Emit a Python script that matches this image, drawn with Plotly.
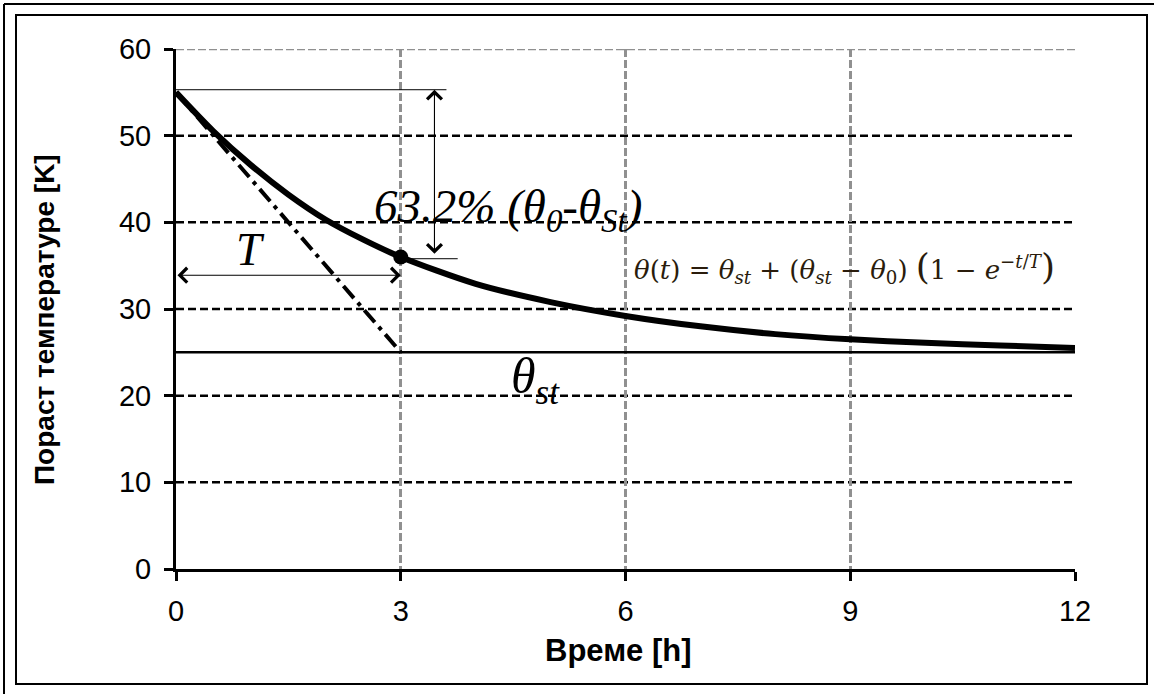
import plotly.graph_objects as go

# ---- data ----
time_h = [0, 0.5, 1, 1.5, 2, 2.5, 3, 4, 5, 6, 7, 8, 9, 10, 11, 12]
temp_rise = [55, 50.5, 46.6, 43.2, 40.3, 38.0, 36.0, 32.9, 30.8, 29.2, 28.0, 27.1, 26.5, 26.1, 25.8, 25.5]
tangent_t = [0, 3]
tangent_y = [55, 25]
steady_t = [0, 12]
steady_y = [25, 25]
point_t = [3]
point_y = [36]
x_ticks = [0, 3, 6, 9, 12]
y_ticks = [0, 10, 20, 30, 40, 50, 60]
y_grid_black = [10, 20, 30, 40, 50]
y_grid_gray = [60]

W, H = 1154, 694
ML, MR, MT, MB = 176, 79, 49, 125
PW, PH = W - ML - MR, H - MT - MB


def px(x):
    return (x - ML) / PW


def py(y):
    return (H - MB - y) / PH


fig = go.Figure()

fig.add_trace(go.Scatter(x=steady_t, y=steady_y, mode="lines",
                         line=dict(color="black", width=2.5), hoverinfo="skip"))
fig.add_trace(go.Scatter(x=tangent_t, y=tangent_y, mode="lines",
                         line=dict(color="black", width=4, dash="16px,6px,4px,6px"),
                         hoverinfo="skip"))
fig.add_trace(go.Scatter(x=time_h, y=temp_rise, mode="lines",
                         line=dict(color="black", width=6, shape="spline", smoothing=0.8)))
fig.add_trace(go.Scatter(x=point_t, y=point_y, mode="markers",
                         marker=dict(color="black", size=15)))

shapes = []
# horizontal grid lines
for v in y_grid_black:
    shapes.append(dict(type="line", xref="x", yref="y", x0=0, x1=12, y0=v, y1=v,
                       line=dict(color="black", width=2.5, dash="8px,4px"), layer="below"))
for v in y_grid_gray:
    shapes.append(dict(type="line", xref="x", yref="y", x0=0, x1=12, y0=v, y1=v,
                       line=dict(color="#909090", width=2.5, dash="8px,3px"), layer="below"))
# thin reference lines
shapes.append(dict(type="line", xref="x", yref="y", x0=0, x1=3.61, y0=55.3, y1=55.3,
                   line=dict(color="black", width=1)))
shapes.append(dict(type="line", xref="x", yref="y", x0=3, x1=3.76, y0=35.8, y1=35.8,
                   line=dict(color="black", width=1)))
# frames
shapes.append(dict(type="line", xref="paper", yref="paper", x0=px(4), x1=px(4), y0=py(4), y1=py(H + 5),
                   line=dict(color="black", width=2)))
shapes.append(dict(type="line", xref="paper", yref="paper", x0=px(4), x1=px(W + 5), y0=py(4), y1=py(4),
                   line=dict(color="black", width=2)))
shapes.append(dict(type="rect", xref="paper", yref="paper", x0=px(16), x1=px(1147), y0=py(15), y1=py(684),
                   line=dict(color="black", width=2)))

annotations = []
# double arrows
annotations.append(dict(x=3.45, y=55.3, ax=3.45, ay=36.2, xref="x", yref="y", axref="x", ayref="y",
                        text="", showarrow=True, arrowhead=4, startarrowhead=4, arrowside="end+start",
                        arrowsize=2.6, startarrowsize=2.6, arrowwidth=1.1, arrowcolor="black"))
annotations.append(dict(x=3.0, y=33.9, ax=0.0, ay=33.9, xref="x", yref="y", axref="x", ayref="y",
                        text="", showarrow=True, arrowhead=4, startarrowhead=4, arrowside="end+start",
                        arrowsize=2.6, startarrowsize=2.6, arrowwidth=1.1, arrowcolor="black"))
# texts
annotations.append(dict(x=4.43, y=41.5, xref="x", yref="y", showarrow=False,
                        text="<i>63.2% (θ<sub>0</sub>-θ<sub>St</sub>)</i>",
                        font=dict(family="Liberation Serif", size=47, color="black")))
annotations.append(dict(x=1.0, y=36.9, xref="x", yref="y", showarrow=False,
                        text="<i>T</i>",
                        font=dict(family="Liberation Serif", size=46, color="black")))
annotations.append(dict(x=4.8, y=21.8, xref="x", yref="y", showarrow=False,
                        text="<i>θ<sub>st</sub></i>",
                        font=dict(family="Liberation Serif", size=50, color="black")))
annotations.append(dict(x=8.92, y=34.9, xref="x", yref="y", showarrow=False,
                        text="<i>θ</i>(<i>t</i>) = <i>θ</i><sub><i>st</i></sub> + (<i>θ</i><sub><i>st</i></sub> − "
                             "<i>θ</i><sub>0</sub>) <span style='font-size:36px'>(</span>1 − "
                             "<i>e</i><sup>−<i>t</i>/<i>T</i></sup><span style='font-size:36px'>)</span>",
                        font=dict(family="DejaVu Serif", size=26, color="#2a1c0c")))
# axis titles
annotations.append(dict(x=px(45), y=py(320), xref="paper", yref="paper", showarrow=False,
                        xanchor="center", yanchor="middle",
                        text="<b>Пораст температуре [K]</b>", textangle=-90,
                        font=dict(family="Liberation Sans", size=28, color="black")))
annotations.append(dict(x=px(618), y=py(651), xref="paper", yref="paper", showarrow=False,
                        xanchor="center", yanchor="middle",
                        text="<b>Време [h]</b>",
                        font=dict(family="Liberation Sans", size=31, color="black")))

fig.update_layout(
    width=W, height=H,
    margin=dict(l=ML, r=MR, t=MT, b=MB, pad=0),
    paper_bgcolor="white", plot_bgcolor="white",
    showlegend=False,
    shapes=shapes, annotations=annotations,
    xaxis=dict(range=[0, 12], tickvals=x_ticks, ticktext=[str(v) for v in x_ticks],
               showgrid=True, gridcolor="#909090", gridwidth=2.5, griddash="8px,3px",
               zeroline=False, showline=True, linecolor="black", linewidth=3,
               ticks="outside", ticklen=9, tickwidth=3, tickcolor="black",
               ticklabelstandoff=5,
               tickfont=dict(family="Liberation Sans", size=29, color="black"),
               fixedrange=True),
    yaxis=dict(range=[0, 60], tickvals=y_ticks, ticktext=[str(v) for v in y_ticks],
               showgrid=False, zeroline=False, showline=True, linecolor="black", linewidth=3,
               ticks="outside", ticklen=9, tickwidth=3, tickcolor="black",
               ticklabelstandoff=7,
               tickfont=dict(family="Liberation Sans", size=29, color="black"),
               fixedrange=True),
)

fig.write_html("out.html", config={"displayModeBar": False},
               post_script="document.body.style.margin='0';")
